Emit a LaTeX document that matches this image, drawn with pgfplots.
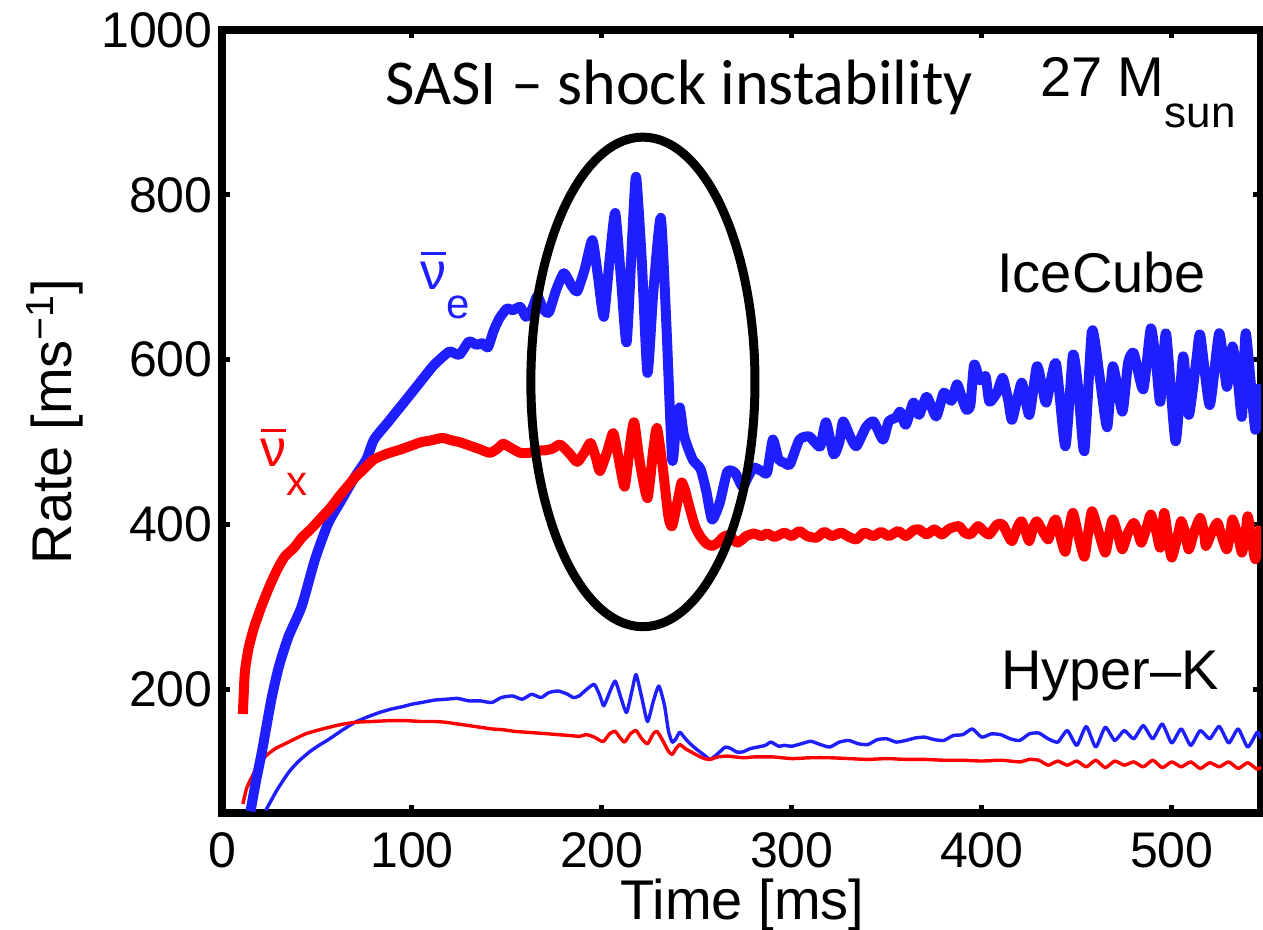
\documentclass[border=0pt]{standalone}
\usepackage{pgfplots}
\pgfplotsset{compat=1.18}
\usepackage{fontspec}
\setmainfont{Liberation Sans}
\newfontfamily\calibri{Carlito}
\definecolor{myblue}{RGB}{30,30,255}
\definecolor{myred}{RGB}{255,0,0}
\newcommand\nubar{\ooalign{ν\cr\hidewidth\rule[0.66em]{0.48em}{0.06em}\hidewidth\cr}}

\pgfplotstableread{
x y
15 52
18 90
21 124
26 188
30 228
35 264
42 301
49 358
56 402
63 430
70 458
76 479
80 503
87 523
94 543
102 566
111 592
116 603
120 610
125 606
130 622
134 618
137 620
140 615
143 635
146 650
150 662
153 660
157 664
160 652
163 660
166 677
169 662
172 657
176 685
180 705
184 690
187 683
191 710
195 745
198 700
201 652
204 720
207 778
210 700
213 621
216 750
218 822
221 720
224 584
227 680
231 772
234 640
237 479
239 520
241 542
243 510
245 495
248 478
252 467
255 440
258 406
262 426
266 464
270 463
274 446
277 458
280 469
284 465
287 463
290 503
293 479
296 475
299 473
304 503
309 507
312 500
315 495
318 524
322 485
325 500
327 525
331 505
334 495
339 518
343 525
348 503
351 525
355 530
357 537
360 521
364 548
367 533
371 555
376 531
380 560
384 550
387 570
390 550
392 539
394 545
396 594
399 575
402 580
404 549
408 560
411 578
414 550
416 527
421 572
425 533
429 592
432 565
434 548
439 596
444 495
448 606
451 560
454 489
458 635
462 580
466 518
469 592
474 537
477 596
480 608
485 564
489 638
492 590
494 549
497 632
502 501
506 604
509 533
513 600
515 630
520 545
525 632
529 567
532 616
535 570
537 531
539 632
544 515
547 570
}\icenue

\pgfplotstableread{
x y
11 170
12 220
14 250
17 276
21 302
25 325
29 345
33 361
38 372
42 384
47 395
51 405
57 420
62 435
66 446
70 457
75 468
80 479
87 486
94 491
100 496
105 500
110 502
116 505
121 502
125 500
130 496
135 492
141 487
145 492
148 498
152 493
157 487
162 487
166 490
170 490
174 492
178 497
183 486
187 476
191 488
194 499
197 480
199 465
203 490
206 511
209 478
212 446
215 500
217 524
220 475
224 432
227 490
229 517
232 470
235 410
237 398
240 430
242 451
244 440
246 422
249 398
252 385
255 377
258 374
261 378
264 385
267 387
271 378
274 382
276 386
280 389
284 386
287 389
291 385
296 390
300 386
304 392
308 386
313 384
317 391
321 386
326 390
330 385
334 382
338 390
343 386
347 391
351 386
356 392
360 386
364 393
367 394
371 388
375 394
379 388
383 395
388 398
391 390
394 388
398 398
401 392
404 388
408 400
411 400
414 386
416 380
419 398
421 404
423 392
425 380
427 396
429 404
432 392
435 382
437 398
439 406
442 380
444 367
446 395
448 414
451 385
454 361
456 390
458 416
461 395
465 366
467 388
469 406
472 385
474 370
477 390
480 402
482 392
484 378
487 398
489 412
492 390
494 372
496 414
498 385
500 360
503 385
505 404
507 390
509 370
512 392
515 408
517 390
518 374
521 390
524 402
526 388
529 370
531 392
532 406
535 385
537 366
539 392
540 410
542 385
544 358
547 398
}\icenux

\pgfplotstableread{
x y
23 53
29 78
35 99
40 112
46 124
51 132
56 139
63 150
70 160
76 166
83 172
89 176
95 179
100 182
105 184
112 187
118 188
124 189
130 186
136 186
142 184
147 190
153 192
158 188
163 194
168 190
172 196
177 198
182 194
185 190
188 192
192 200
196 206
199 192
201 180
204 196
207 210
210 190
213 172
216 200
218 218
221 190
224 161
227 185
230 204
233 180
235 150
237 136
239 140
241 148
244 140
247 133
250 127
254 120
257 115
261 122
265 130
268 128
271 124
274 124
278 128
282 130
286 132
289 136
293 131
296 132
300 131
305 134
310 137
315 133
320 130
325 136
330 138
335 134
340 133
345 139
350 140
355 136
360 138
365 141
370 142
375 139
380 138
385 144
390 145
395 152
400 142
405 146
410 145
415 140
420 138
425 146
430 147
435 140
440 136
445 150
450 132
455 155
460 130
465 154
470 138
475 150
480 140
485 156
490 140
495 158
500 135
505 152
510 132
515 150
520 140
525 155
530 135
535 152
540 130
545 148
547 140
}\hknue

\pgfplotstableread{
x y
11 61
13 80
16 95
19 108
23 119
28 128
35 136
44 146
53 152
62 157
70 160
79 161
88 162
97 162
105 161
112 161
118 160
124 158
130 156
136 154
142 152
148 151
154 149
160 148
166 147
172 146
177 145
183 144
188 143
192 145
196 142
199 138
201 137
204 146
207 149
210 140
212 136
215 146
218 150
221 140
224 134
227 146
229 149
232 138
235 125
237 121
239 128
241 133
244 128
247 124
251 119
254 116
257 115
261 118
266 119
270 118
275 117
280 118
290 118
300 116
310 117
320 117
330 116
340 115
350 116
360 115
370 115
380 114
390 114
400 113
410 114
420 112
425 115
430 114
435 108
440 113
445 108
450 113
455 106
460 114
465 105
470 113
475 108
480 112
485 106
490 114
495 105
500 112
505 106
510 112
515 104
520 111
525 106
530 112
535 104
540 111
545 103
547 106
}\hknux

\begin{document}
\begin{tikzpicture}
\begin{axis}[
  scale only axis, width=519.5pt, height=391.5pt,
  xmin=0, xmax=547, ymin=50, ymax=1000,
  xtick={0,100,...,500}, ytick={200,400,...,1000},
  tick pos=both,
  axis line style={line width=4pt},
  tick style={line width=2.5pt, black},
  major tick length=4pt,
  /pgf/number format/assume math mode=true,
  /pgf/number format/1000 sep={},
  tick label style={font=\fontsize{25}{30}\selectfont},
  yticklabel style={inner xsep=4.5pt},
  xticklabel style={inner ysep=9.5pt},
  xlabel={Time [ms]},
  ylabel={Rate [ms\textsuperscript{−1}]},
  label style={font=\fontsize{28}{34}\selectfont, inner sep=0pt},
  xlabel style={at={(axis description cs:0.501,-0.117)}, anchor=center},
  ylabel style={at={(axis description cs:-0.161,0.5)}, anchor=center},
]
\coordinate (sw) at (rel axis cs:0,0);
\coordinate (ne) at (rel axis cs:1,1);
\addplot[myblue, line width=1.7pt, mark=none, line join=round, smooth, tension=0.35] table {\hknue};
\addplot[myred, line width=1.7pt, mark=none, line join=round, smooth, tension=0.35] table {\hknux};
\addplot[myblue, line width=5pt, mark=none, line join=round, smooth, tension=0.35] table {\icenue};
\addplot[myred, line width=5pt, mark=none, line join=round, smooth, tension=0.35] table {\icenux};
\draw[line width=4.5pt, black] (axis cs:221.6,573) ellipse [x radius=59, y radius=297];
\node[anchor=base west, inner sep=0, font=\calibri\fontsize{32}{38}\selectfont] at (axis cs:85.8,909) {SASI – shock instability};
\node[anchor=base west, inner sep=0, font=\fontsize{28}{34}\selectfont] at (axis cs:430.5,919) {27 M\raisebox{-15.5pt}{\fontsize{22}{26}\selectfont sun}};
\node[anchor=base west, inner sep=0, font=\fontsize{28}{34}\selectfont] at (axis cs:408,681) {IceCube};
\node[anchor=base west, inner sep=0, font=\fontsize{28}{34}\selectfont] at (axis cs:410,200) {Hyper--K};
\node[anchor=base west, inner sep=0, text=myblue, font=\fontsize{26}{30}\selectfont] at (axis cs:104.2,685) {\nubar\raisebox{-0.55em}{\fontsize{21}{25}\selectfont e}};
\node[anchor=base west, inner sep=0, text=myred, font=\fontsize{26}{30}\selectfont] at (axis cs:20,470) {\nubar\raisebox{-0.55em}{\fontsize{21}{25}\selectfont x}};
\end{axis}
\pgfresetboundingbox
\path ([shift={(-111pt,-58.5pt)}]sw) rectangle ([shift={(1pt,15pt)}]ne);
\end{tikzpicture}
\end{document}
